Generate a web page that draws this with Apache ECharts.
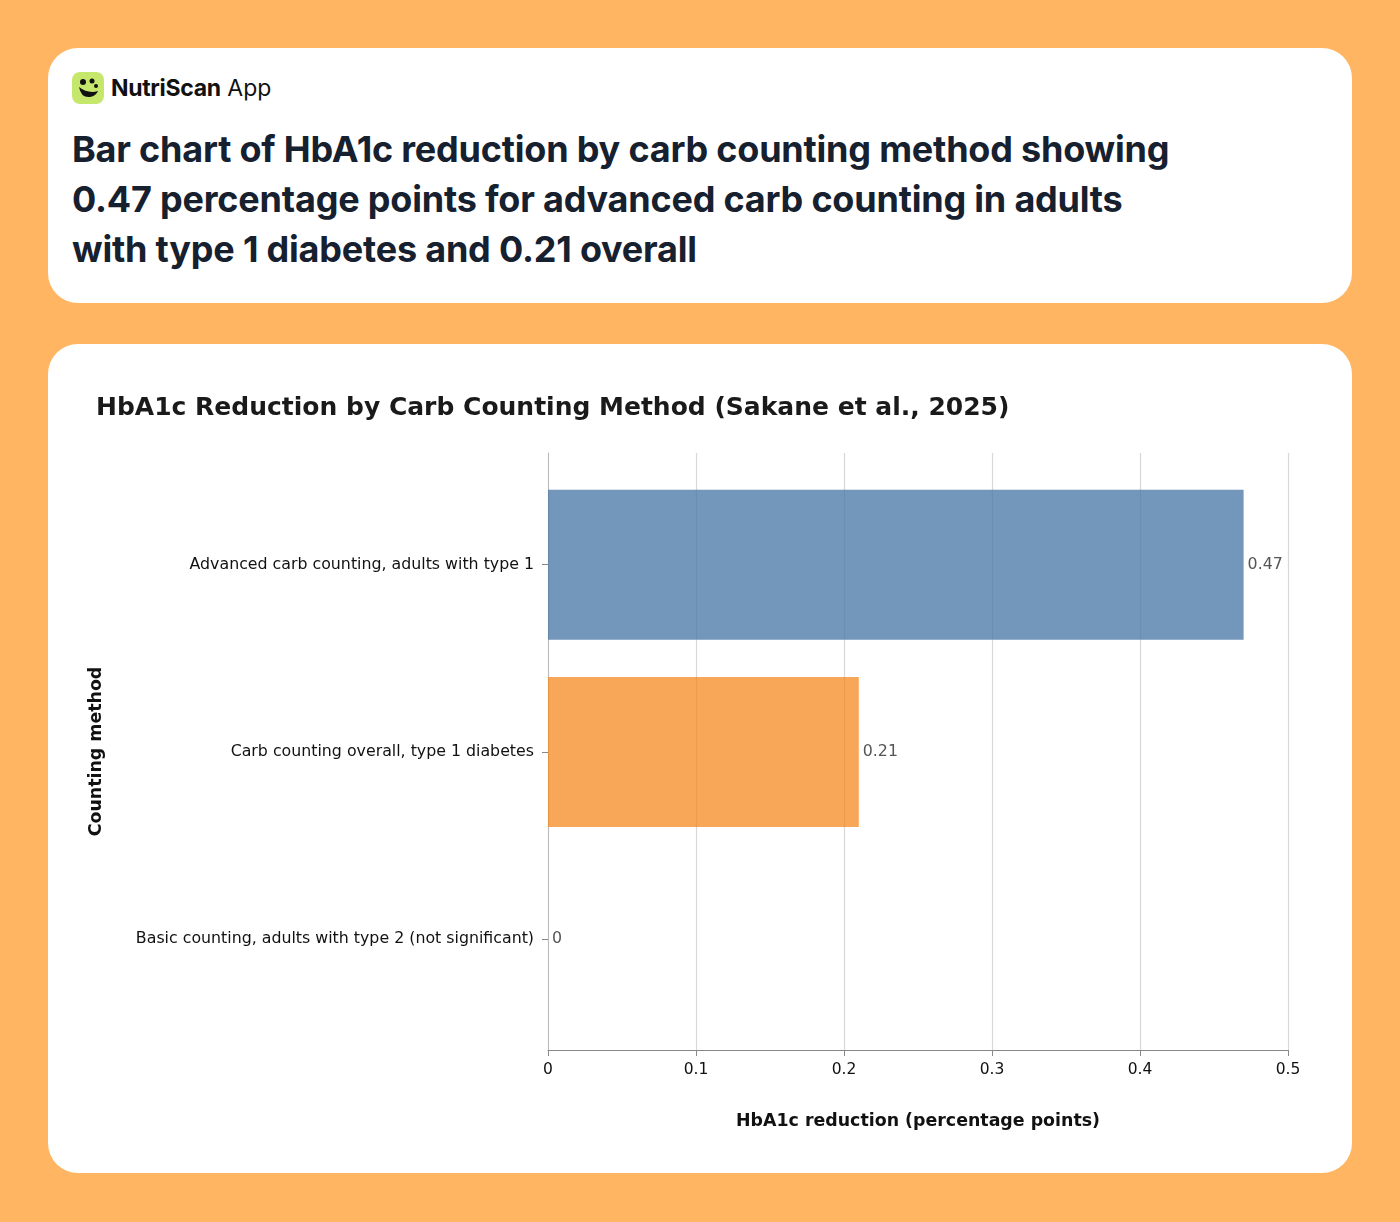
<!DOCTYPE html>
<html><head><meta charset="utf-8">
<script src="https://cdn.jsdelivr.net/npm/echarts@6/dist/echarts.min.js"></script>
<style>
body{margin:0;width:1400px;height:1222px;background:#FFB562;position:relative;font-family:Inter,"Noto Sans",sans-serif;overflow:hidden}
.card{position:absolute;left:48px;width:1304px;background:#fff;border-radius:30px}
#c1{top:48px;height:255px}
#c2{top:344px;height:829px}
.logo{position:absolute;left:24px;top:24px;display:flex;align-items:center;font-size:23px;color:#111}
.icon{width:32px;height:32px;border-radius:8px;background:#C5E86C;margin-right:7px;position:relative}
h1{position:absolute;left:24px;top:76px;margin:0;font-size:36px;line-height:50px;font-weight:700;color:#16202e;width:1110px;letter-spacing:-0.2px}
#chart{position:absolute;left:0;top:0;width:1304px;height:829px}
</style></head><body>
<div class="card" id="c1">
<div class="logo"><div class="icon"><svg width="32" height="32" viewBox="0 0 32 32"><circle cx="11" cy="10" r="3" fill="#111"/><circle cx="20" cy="9" r="2.5" fill="#111"/><circle cx="24" cy="14" r="2" fill="#111"/><path d="M7 15 Q9 26 18 25 Q24 24 26 19 Q16 22 7 15Z" fill="#111"/></svg></div><b style="letter-spacing:-0.3px">NutriScan</b>&nbsp;<span style="font-weight:400">App</span></div>
<h1>Bar chart of HbA1c reduction by carb counting method showing 0.47 percentage points for advanced carb counting in adults with type 1 diabetes and 0.21 overall</h1>
</div>
<div class="card" id="c2"><div id="chart"></div></div>
<script>
const categories=["Advanced carb counting, adults with type 1","Carb counting overall, type 1 diabetes","Basic counting, adults with type 2 (not significant)"];
const values=[0.47,0.21,0];
const colors=["rgba(76,120,168,0.78)","rgba(245,133,24,0.72)","rgba(84,162,75,0.7)"];
const ch=echarts.init(document.getElementById('chart'));
const F='DejaVu Sans';
ch.setOption({
animation:false,
title:{text:'HbA1c Reduction by Carb Counting Method (Sakane et al., 2025)',left:43,top:47,textStyle:{fontFamily:F,fontSize:25,fontWeight:'bold',color:'#1a1a1a'}},
grid:[{left:500,right:64,top:109,bottom:123},{left:500,right:64,top:127,bottom:140}],
xAxis:[{type:'value',gridIndex:0,min:0,max:0.5,interval:0.1,
 name:'HbA1c reduction (percentage points)',nameLocation:'middle',nameGap:63,
 nameTextStyle:{fontFamily:F,fontSize:17.4,fontWeight:'bold',color:'#111'},
 axisLine:{show:true,lineStyle:{color:'#888'}},axisTick:{show:true,length:6,lineStyle:{color:'#888'}},
 axisLabel:{fontFamily:F,fontSize:15.5,color:'#111',margin:12},
 splitLine:{lineStyle:{color:'#d8d8d8',width:1.2}}},
 {type:'value',gridIndex:1,min:0,max:0.5,show:false}],
yAxis:[{type:'value',gridIndex:0,min:0,max:1,show:true,axisLine:{show:true,lineStyle:{color:'#bbb'}},axisTick:{show:false},axisLabel:{show:false},splitLine:{show:false},
 name:'Counting method',nameLocation:'middle',nameGap:443,nameRotate:90,
 nameTextStyle:{fontFamily:F,fontSize:17.4,fontWeight:'bold',color:'#111'}},
 {type:'category',gridIndex:1,inverse:true,data:categories,
 axisLine:{show:false},axisTick:{show:true,alignWithLabel:true,length:6,lineStyle:{color:'#888'}},
 axisLabel:{fontFamily:F,fontSize:15.8,color:'#111',margin:14}}],
series:[{type:'bar',xAxisIndex:1,yAxisIndex:1,barWidth:150,
 data:values.map((v,i)=>({value:v,itemStyle:{color:colors[i]}})),
 label:{show:true,position:'right',distance:4,fontFamily:F,fontSize:15.8,color:'#555'}}]
});
</script>
</body></html>
